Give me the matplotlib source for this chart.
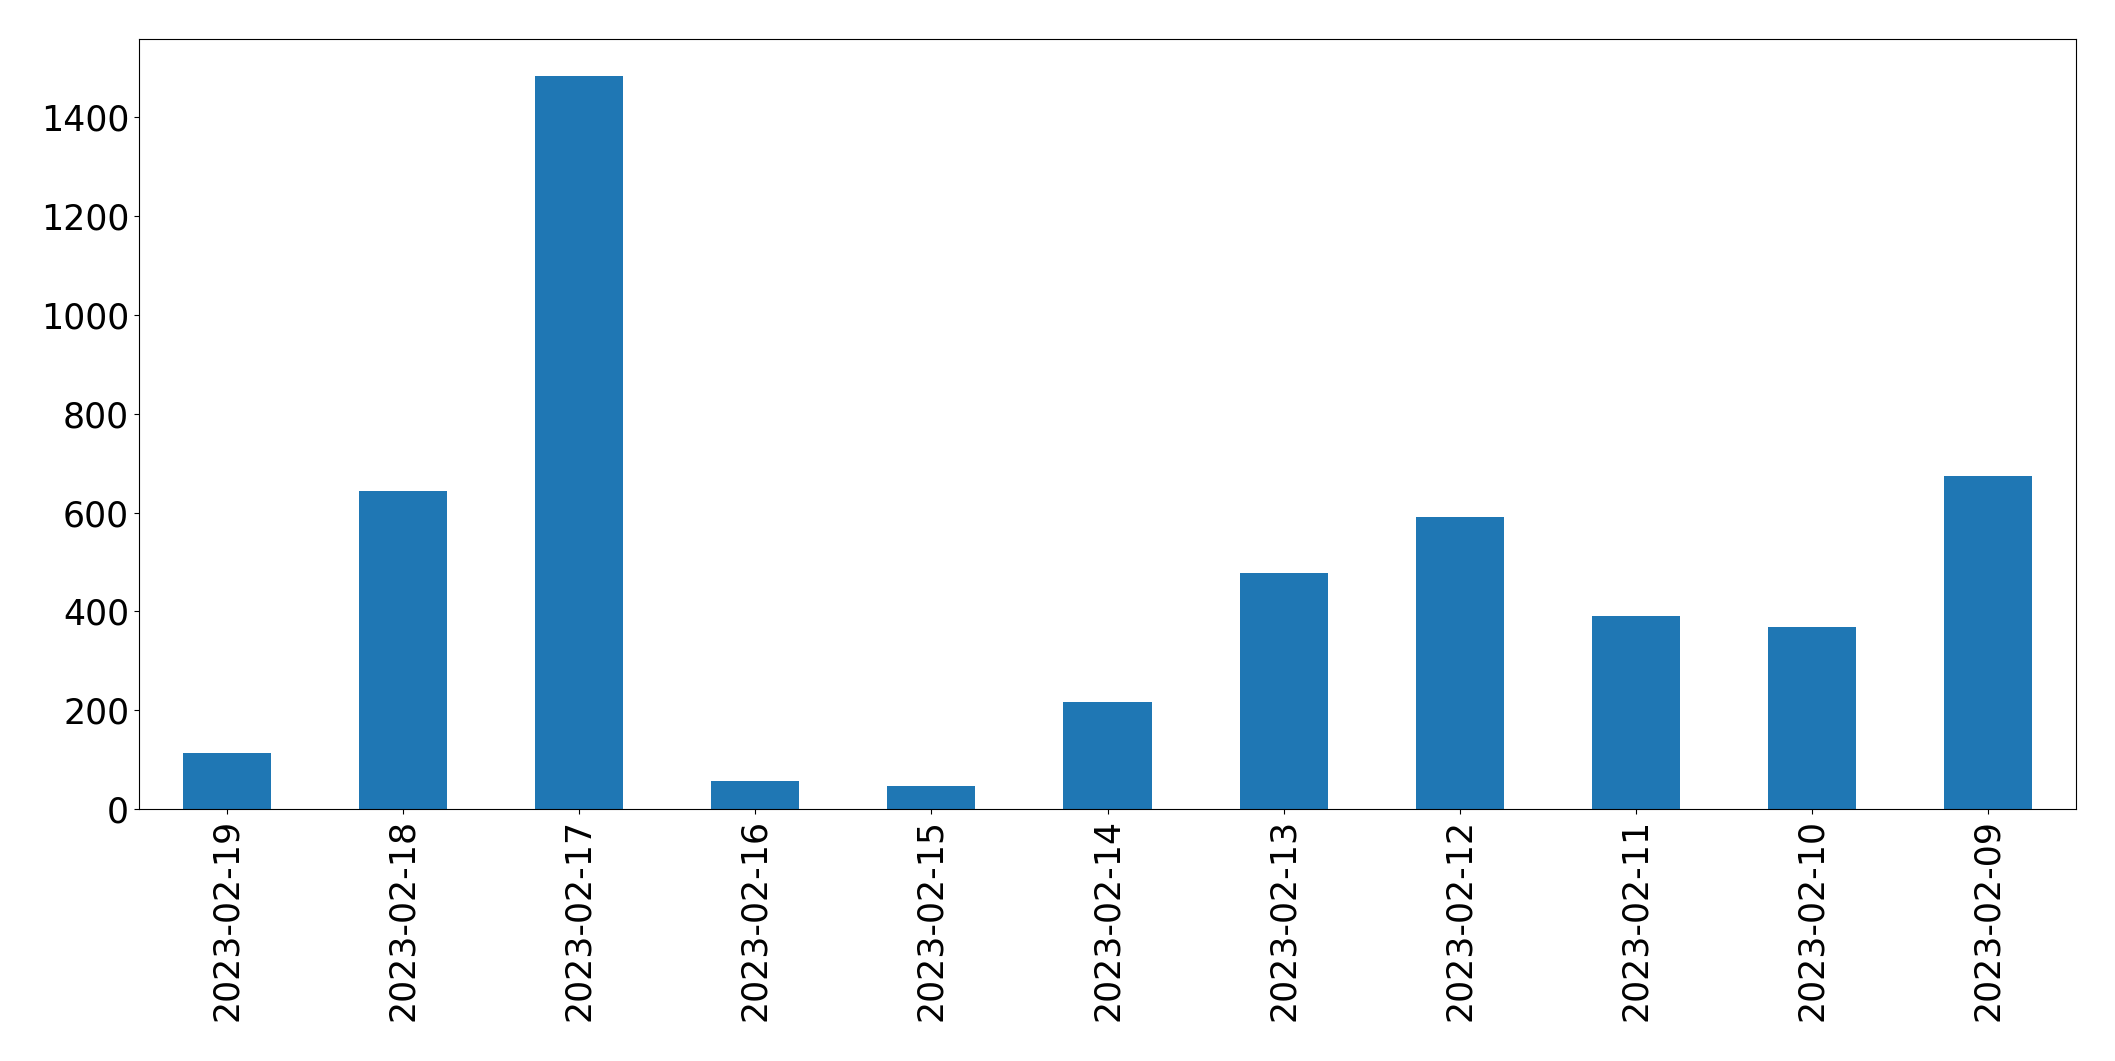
import matplotlib
matplotlib.use("Agg")
import matplotlib.pyplot as plt
import numpy as np

dates = ["2023-02-19", "2023-02-18", "2023-02-17", "2023-02-16", "2023-02-15",
         "2023-02-14", "2023-02-13", "2023-02-12", "2023-02-11", "2023-02-10",
         "2023-02-09"]
counts = [113, 643, 1484, 57, 47, 217, 478, 590, 391, 369, 673]

fig = plt.figure(figsize=(21.15, 10.61), dpi=100)
ax = fig.add_axes([0.0657, 0.2375, 0.9159, 0.7257])
x = np.arange(len(dates))
ax.bar(x, counts, width=0.5, color="#1f77b4")
ax.set_xlim(-0.5, len(dates) - 0.5)
ax.set_xticks(x)
ax.set_xticklabels(dates, rotation=90)
ax.tick_params(axis="both", labelsize=25)
fig.savefig("out.png", dpi=100)
